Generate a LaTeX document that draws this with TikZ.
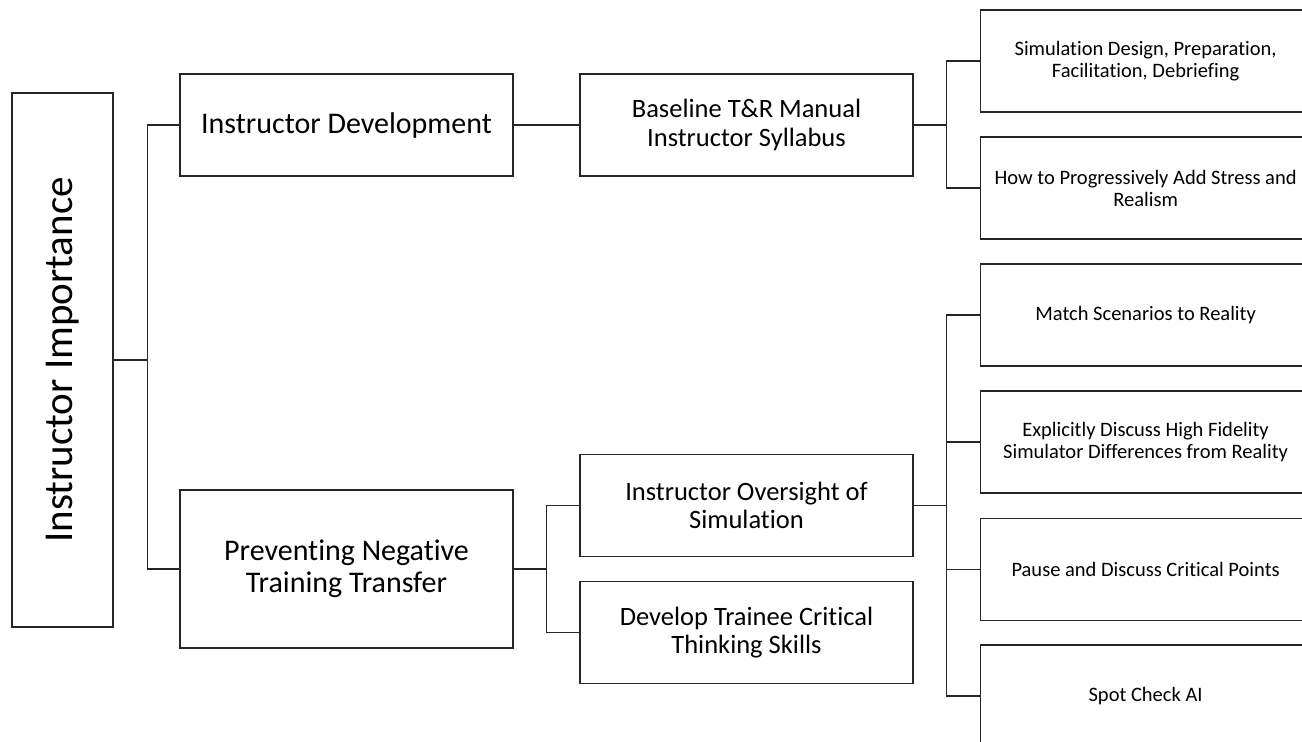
\documentclass[tikz,border=0pt]{standalone}
\usepackage{fontspec}
\setmainfont{Carlito}[Ligatures={NoCommon}]
\begin{document}
\begin{tikzpicture}[x=1pt,y=-1pt,
  box/.style={draw=black!85, line width=1.2pt, fill=white, inner sep=0pt, align=center},
  lvlone/.style={box, minimum width=333pt, font=\fontsize{30}{32}\selectfont},
  lvltwo/.style={box, minimum width=333pt, minimum height=102pt, font=\fontsize{26.5}{28.5}\selectfont},
  leaf/.style={box, minimum width=330pt, minimum height=102pt, anchor=west, font=\fontsize{20.5}{22}\selectfont},
  conn/.style={draw=black!85, line width=1.2pt}]
\useasboundingbox (0,0) rectangle (1302,742);
\clip (0,0) rectangle (1302,742);
% root
\node[box, minimum width=101pt, minimum height=534pt] (root) at (62.5,360) {};
\node[rotate=90, font=\fontsize{41}{48}\selectfont, inner sep=0pt] (roottxt) at (root.center) {Instructor Importance};
% level one
\node[lvlone, minimum height=102pt] (idev) at (346.5,125) {Instructor Development};
\node[lvlone, minimum height=158pt] (pnt) at (346.5,569) {Preventing Negative\\Training Transfer};
% level two
\node[lvltwo] (btr) at (746.5,125) {Baseline T\&R Manual\\Instructor Syllabus};
\node[lvltwo] (ovs) at (746.5,505.5) {Instructor Oversight of\\Simulation};
\node[lvltwo] (dtc) at (746.5,632.5) {Develop Trainee Critical\\Thinking Skills};
% leaves
\node[leaf] (l1) at (980,61) {Simulation Design, Preparation,\\Facilitation, Debriefing};
\node[leaf] (l2) at (980,188) {How to Progressively Add Stress and\\Realism};
\node[leaf] (l3) at (980,315) {Match Scenarios to Reality};
\node[leaf] (l4) at (980,442) {Explicitly Discuss High Fidelity\\Simulator Differences from Reality};
\node[leaf] (l5) at (980,569.5) {Pause and Discuss Critical Points};
\node[leaf] (l6) at (980,696) {Spot Check AI};
% connectors
\draw[conn] (root.east) -- ++(34,0) |- (idev.west);
\draw[conn] (root.east) -- ++(34,0) |- (pnt.west);
\draw[conn] (idev.east) -- (btr.west);
\draw[conn] (btr.east) -- ++(33,0) |- (l1.west);
\draw[conn] (btr.east) -- ++(33,0) |- (l2.west);
\draw[conn] (pnt.east) -- ++(33,0) |- (ovs.west);
\draw[conn] (pnt.east) -- ++(33,0) |- (dtc.west);
\draw[conn] (ovs.east) -- ++(33,0) |- (l3.west);
\draw[conn] (ovs.east) -- ++(33,0) |- (l4.west);
\draw[conn] (ovs.east) -- ++(33,0) |- (l5.west);
\draw[conn] (ovs.east) -- ++(33,0) |- (l6.west);
\end{tikzpicture}
\end{document}
